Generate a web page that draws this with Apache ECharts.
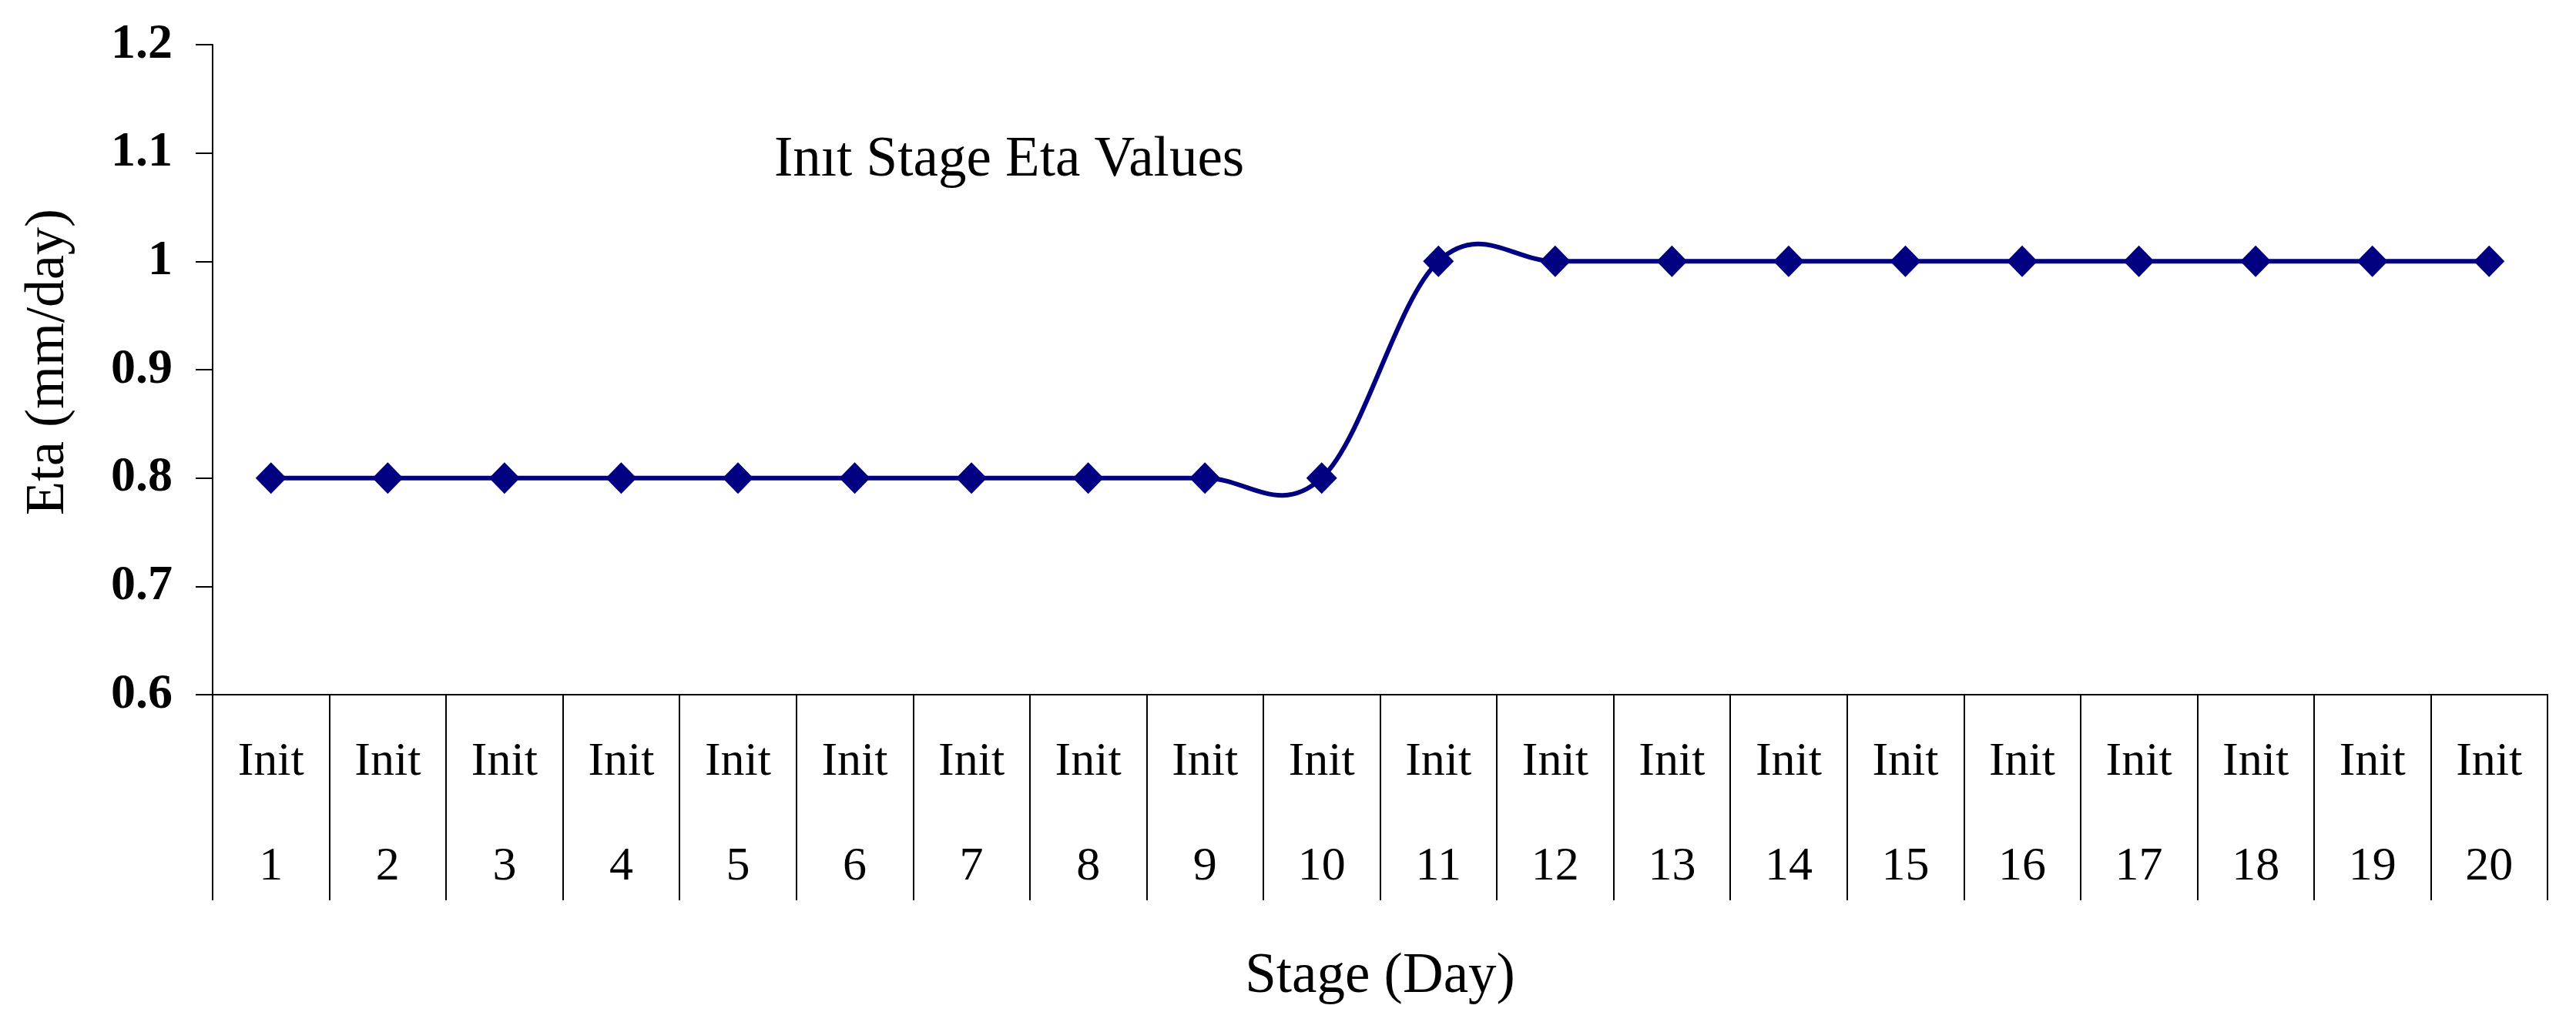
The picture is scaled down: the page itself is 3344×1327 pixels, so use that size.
<!DOCTYPE html>
<html><head><meta charset="utf-8">
<script src="https://cdn.jsdelivr.net/npm/echarts@6/dist/echarts.min.js"></script>
<style>html,body{margin:0;padding:0;background:#fff}#c{width:3344px;height:1327px}</style>
</head><body><div id="c"></div>
<script>
// ---- data ----
const categories = ['1','2','3','4','5','6','7','8','9','10','11','12','13','14','15','16','17','18','19','20'];
const categoryPrefix = 'Init';
const etaValues = [0.8,0.8,0.8,0.8,0.8,0.8,0.8,0.8,0.8,0.8,1,1,1,1,1,1,1,1,1,1];
const yMin = 0.6, yMax = 1.2, yStep = 0.1;
const chartTitle = 'Inıt Stage Eta Values';
const xAxisTitle = 'Stage (Day)';
const yAxisTitle = 'Eta (mm/day)';

const FONT = '"Liberation Serif", "Times New Roman", serif';
const LINE_COLOR = '#000080';
const TENSION = 0.18; // Catmull-Rom style smoothing (spreadsheet "smoothed line")

const chart = echarts.init(document.getElementById('c'), null, {renderer: 'canvas'});

function pt(api, j) {
  const k = Math.max(0, Math.min(etaValues.length - 1, j));
  return api.coord([k, etaValues[k]]);
}

chart.setOption({
  animation: false,
  backgroundColor: '#ffffff',
  title: {
    text: chartTitle,
    left: 1005, top: 172, padding: 0,
    textStyle: {fontFamily: FONT, fontSize: 73, fontWeight: 'normal', color: '#000'}
  },
  grid: {left: 276, right: 37, top: 58, bottom: 425, containLabel: false},
  xAxis: {
    type: 'category',
    data: categories,
    boundaryGap: true,
    name: xAxisTitle,
    nameLocation: 'middle',
    nameGap: 330,
    nameTextStyle: {fontFamily: FONT, fontSize: 73, color: '#000'},
    axisLine: {show: true, lineStyle: {color: '#000', width: 2}},
    axisTick: {show: true, inside: false, length: 267, alignWithLabel: false, interval: 0, lineStyle: {color: '#000', width: 2}},
    axisLabel: {
      interval: 0, margin: 20,
      fontFamily: FONT, fontSize: 62, color: '#000', lineHeight: 136,
      formatter: v => categoryPrefix + '\n' + v
    },
    splitLine: {show: false}
  },
  yAxis: {
    type: 'value',
    min: yMin, max: yMax, interval: yStep,
    name: yAxisTitle,
    nameLocation: 'middle',
    nameRotate: 90,
    nameGap: 177,
    nameTextStyle: {fontFamily: FONT, fontSize: 72, color: '#000', padding: [0, 0, 0, 20]},
    axisLine: {show: true, lineStyle: {color: '#000', width: 2}},
    axisTick: {show: true, inside: false, length: 22, lineStyle: {color: '#000', width: 2}},
    axisLabel: {margin: 52, fontFamily: FONT, fontSize: 64, fontWeight: 'bold', color: '#000'},
    splitLine: {show: false}
  },
  series: [
    {
      type: 'custom',
      name: 'Eta curve',
      data: etaValues.map((v, i) => [i, v]),
      encode: {x: 0, y: 1},
      clip: false,
      z: 2,
      renderItem: function (params, api) {
        const i = params.dataIndex;
        if (i >= etaValues.length - 1) return null;
        const p0 = pt(api, i - 1), p1 = pt(api, i), p2 = pt(api, i + 1), p3 = pt(api, i + 2);
        return {
          type: 'bezierCurve',
          shape: {
            x1: p1[0], y1: p1[1],
            cpx1: p1[0] + (p2[0] - p0[0]) * TENSION, cpy1: p1[1] + (p2[1] - p0[1]) * TENSION,
            cpx2: p2[0] - (p3[0] - p1[0]) * TENSION, cpy2: p2[1] - (p3[1] - p1[1]) * TENSION,
            x2: p2[0], y2: p2[1]
          },
          style: {fill: null, stroke: LINE_COLOR, lineWidth: 6, lineCap: 'round'}
        };
      }
    },
    {
      type: 'scatter',
      name: 'Eta',
      data: etaValues,
      symbol: 'diamond',
      symbolSize: [40, 41],
      itemStyle: {color: LINE_COLOR, opacity: 1},
      z: 3
    }
  ]
});
</script></body></html>
